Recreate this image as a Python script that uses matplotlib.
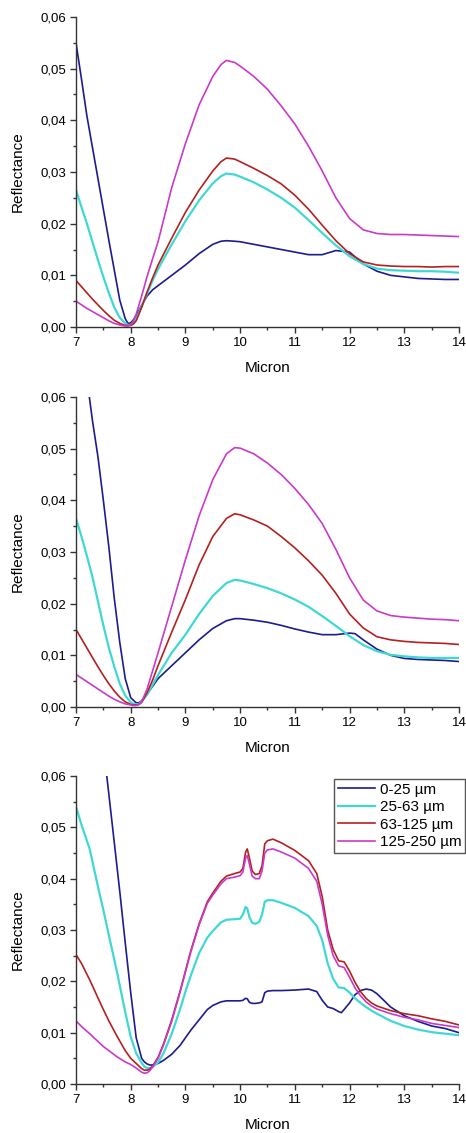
import matplotlib
matplotlib.use("Agg")
import matplotlib.pyplot as plt
from matplotlib.ticker import MultipleLocator, FuncFormatter

plt.rcParams['font.family'] = ['Liberation Sans', 'DejaVu Sans']

labels = ["0-25 µm", "25-63 µm", "63-125 µm", "125-250 µm"]
colors = ["#1c1c8f", "#40d8d2", "#b52020", "#c93ac9"]

# ---------------- Panel 1 ----------------
x1 = [7.0, 7.1, 7.2, 7.3, 7.4, 7.5, 7.6, 7.7, 7.8, 7.9, 7.95, 8.0, 8.05, 8.1, 8.2, 8.3, 8.4, 8.5,
      8.75, 9.0, 9.25, 9.5, 9.65, 9.75, 9.9, 10.0, 10.25, 10.5, 10.75, 11.0, 11.25, 11.5, 11.75,
      12.0, 12.25, 12.5, 12.75, 13.0, 13.25, 13.5, 13.75, 14.0]
blue1 = [0.0550, 0.0480, 0.0408, 0.0348, 0.0288, 0.0228, 0.0168, 0.0110, 0.0052, 0.0016, 0.0007,
         0.0008, 0.0014, 0.0022, 0.0042, 0.0060, 0.0072, 0.0080, 0.0100, 0.0120, 0.0142, 0.0160,
         0.0166, 0.0167, 0.0166, 0.0165, 0.0160, 0.0155, 0.0150, 0.0145, 0.0140, 0.0140, 0.0148,
         0.0145, 0.0122, 0.0108, 0.0100, 0.0097, 0.0094, 0.0093, 0.0092, 0.0092]
cyan1 = [0.0265, 0.0232, 0.0200, 0.0165, 0.0130, 0.0097, 0.0066, 0.0038, 0.0018, 0.0007, 0.0004,
         0.0004, 0.0007, 0.0015, 0.0040, 0.0065, 0.0090, 0.0112, 0.0160, 0.0205, 0.0245, 0.0278,
         0.0292, 0.0297, 0.0295, 0.0291, 0.0280, 0.0266, 0.0250, 0.0231, 0.0207, 0.0182, 0.0158,
         0.0137, 0.0122, 0.0113, 0.0110, 0.0109, 0.0108, 0.0108, 0.0107, 0.0105]
red1 = [0.0090, 0.0078, 0.0066, 0.0054, 0.0043, 0.0032, 0.0022, 0.0013, 0.0007, 0.0003, 0.0003,
        0.0003, 0.0006, 0.0012, 0.0038, 0.0068, 0.0095, 0.0120, 0.0172, 0.0222, 0.0265, 0.0302,
        0.0320, 0.0327, 0.0325, 0.0320, 0.0307, 0.0293, 0.0277, 0.0255, 0.0228, 0.0197, 0.0167,
        0.0142, 0.0126, 0.0120, 0.0118, 0.0117, 0.0117, 0.0116, 0.0117, 0.0117]
mag1 = [0.0050, 0.0043, 0.0036, 0.0030, 0.0024, 0.0018, 0.0012, 0.0007, 0.0004, 0.0002, 0.0002,
        0.0004, 0.0012, 0.0025, 0.0060, 0.0098, 0.0132, 0.0165, 0.0270, 0.0355, 0.0430, 0.0485,
        0.0508, 0.0516, 0.0512, 0.0505, 0.0485, 0.0460, 0.0428, 0.0393, 0.0350, 0.0302, 0.0250,
        0.0210, 0.0188, 0.0181, 0.0179, 0.0179, 0.0178, 0.0177, 0.0176, 0.0175]

# ---------------- Panel 2 ----------------
x2 = [7.0, 7.1, 7.2, 7.3, 7.4, 7.5, 7.6, 7.7, 7.8, 7.9, 8.0, 8.05, 8.1, 8.15, 8.2, 8.3, 8.4, 8.5,
      8.75, 9.0, 9.25, 9.5, 9.75, 9.9, 10.0, 10.25, 10.5, 10.75, 11.0, 11.25, 11.5, 11.75, 12.0,
      12.25, 12.5, 12.75, 13.0, 13.25, 13.5, 13.75, 14.0]
cyan2 = [0.0365, 0.0330, 0.0292, 0.0252, 0.0205, 0.0158, 0.0115, 0.0078, 0.0045, 0.0022, 0.0009,
         0.0006, 0.0005, 0.0006, 0.0010, 0.0024, 0.0043, 0.0062, 0.0105, 0.0140, 0.0180, 0.0215,
         0.0240, 0.0246, 0.0245, 0.0238, 0.0230, 0.0220, 0.0208, 0.0194, 0.0176, 0.0157, 0.0137,
         0.0120, 0.0108, 0.0101, 0.0098, 0.0096, 0.0095, 0.0095, 0.0095]
red2 = [0.0150, 0.0132, 0.0114, 0.0096, 0.0078, 0.0061, 0.0045, 0.0031, 0.0019, 0.0010, 0.0005,
        0.0004, 0.0004, 0.0005, 0.0009, 0.0028, 0.0052, 0.0080, 0.0145, 0.0208, 0.0275, 0.0330,
        0.0365, 0.0374, 0.0372, 0.0362, 0.0350, 0.0330, 0.0308, 0.0283, 0.0255, 0.0220, 0.0180,
        0.0153, 0.0136, 0.0130, 0.0127, 0.0125, 0.0124, 0.0123, 0.0121]
mag2 = [0.0063, 0.0056, 0.0049, 0.0042, 0.0035, 0.0028, 0.0021, 0.0015, 0.0010, 0.0006, 0.0004,
        0.0003, 0.0003, 0.0005, 0.0010, 0.0035, 0.0070, 0.0105, 0.0195, 0.0285, 0.0370, 0.0440,
        0.0490, 0.0502, 0.0501, 0.0490, 0.0472, 0.0450, 0.0423, 0.0392, 0.0355, 0.0305, 0.0250,
        0.0207, 0.0186, 0.0177, 0.0174, 0.0172, 0.0170, 0.0169, 0.0167]
xb2 = [7.2, 7.3, 7.4, 7.5, 7.6, 7.7, 7.8, 7.9, 8.0, 8.1, 8.15, 8.2, 8.3, 8.4, 8.5, 8.75, 9.0, 9.25,
       9.5, 9.75, 9.9, 10.0, 10.25, 10.5, 10.75, 11.0, 11.25, 11.5, 11.75, 12.0, 12.1, 12.25, 12.5,
       12.75, 13.0, 13.25, 13.5, 13.75, 14.0]
blue2 = [0.0635, 0.0555, 0.0485, 0.0400, 0.0310, 0.0210, 0.0125, 0.0055, 0.0018, 0.0008, 0.0008,
         0.0012, 0.0025, 0.0040, 0.0055, 0.0080, 0.0105, 0.0130, 0.0152, 0.0167, 0.0171, 0.0171,
         0.0168, 0.0164, 0.0158, 0.0151, 0.0145, 0.0140, 0.0140, 0.0143, 0.0142, 0.0130, 0.0112,
         0.0100, 0.0094, 0.0092, 0.0091, 0.0090, 0.0088]

# ---------------- Panel 3 ----------------
x3 = [7.0, 7.1, 7.25, 7.4, 7.5, 7.6, 7.75, 7.9, 8.0, 8.1, 8.2, 8.25, 8.3, 8.35, 8.4, 8.5, 8.6,
      8.75, 8.9, 9.0, 9.1, 9.25, 9.4, 9.5, 9.65, 9.75, 9.9, 10.0, 10.05, 10.1, 10.13, 10.17, 10.22,
      10.28, 10.35, 10.4, 10.45, 10.5, 10.6, 10.75, 11.0, 11.25, 11.4, 11.5, 11.6, 11.7, 11.8,
      11.9, 12.0, 12.1, 12.2, 12.3, 12.4, 12.5, 12.75, 13.0, 13.25, 13.5, 13.75, 14.0]
cyan3 = [0.0540, 0.0505, 0.0458, 0.0385, 0.0339, 0.0290, 0.0218, 0.0140, 0.0092, 0.0060, 0.0041,
         0.0034, 0.0031, 0.0031, 0.0033, 0.0042, 0.0060, 0.0098, 0.0145, 0.0180, 0.0212, 0.0255,
         0.0285, 0.0298, 0.0315, 0.0320, 0.0321, 0.0322, 0.0330, 0.0345, 0.0342, 0.0325, 0.0314,
         0.0312, 0.0316, 0.0330, 0.0355, 0.0358, 0.0358, 0.0353, 0.0343, 0.0327, 0.0308, 0.0280,
         0.0235, 0.0205, 0.0188, 0.0187, 0.0178, 0.0167, 0.0158, 0.0150, 0.0143, 0.0137, 0.0123,
         0.0113, 0.0106, 0.0101, 0.0098, 0.0095]
red3 = [0.0252, 0.0235, 0.0203, 0.0168, 0.0145, 0.0123, 0.0093, 0.0065, 0.0050, 0.0040, 0.0030,
        0.0027, 0.0027, 0.0029, 0.0035, 0.0052, 0.0078, 0.0125, 0.0180, 0.0220, 0.0260, 0.0312,
        0.0355, 0.0372, 0.0395, 0.0405, 0.0410, 0.0413, 0.0420, 0.0452, 0.0458, 0.0440, 0.0415,
        0.0408, 0.0410, 0.0425, 0.0468, 0.0474, 0.0477, 0.0470, 0.0455, 0.0435, 0.0410, 0.0365,
        0.0300, 0.0262, 0.0240, 0.0238, 0.0220, 0.0198, 0.0180, 0.0167, 0.0158, 0.0152, 0.0143,
        0.0137, 0.0133, 0.0127, 0.0122, 0.0115]
mag3 = [0.0123, 0.0112, 0.0098, 0.0083, 0.0073, 0.0065, 0.0053, 0.0043, 0.0038, 0.0031, 0.0023,
        0.0021, 0.0022, 0.0026, 0.0033, 0.0050, 0.0076, 0.0122, 0.0178, 0.0218, 0.0258, 0.0310,
        0.0352, 0.0368, 0.0390, 0.0400, 0.0403, 0.0406, 0.0413, 0.0440, 0.0445, 0.0428, 0.0405,
        0.0400, 0.0400, 0.0415, 0.0450, 0.0456, 0.0458, 0.0452, 0.0440, 0.0420, 0.0395, 0.0350,
        0.0290, 0.0250, 0.0230, 0.0227, 0.0208, 0.0187, 0.0172, 0.0160, 0.0152, 0.0146, 0.0137,
        0.0130, 0.0125, 0.0118, 0.0114, 0.0110]
xb3 = [7.53, 7.6, 7.7, 7.8, 7.9, 8.0, 8.1, 8.2, 8.25, 8.3, 8.35, 8.4, 8.5, 8.6, 8.75, 8.9, 9.0,
       9.1, 9.25, 9.4, 9.5, 9.65, 9.75, 9.9, 10.0, 10.05, 10.1, 10.13, 10.17, 10.22, 10.28, 10.35,
       10.4, 10.45, 10.5, 10.6, 10.75, 11.0, 11.25, 11.4, 11.5, 11.6, 11.7, 11.8, 11.85, 11.9,
       12.0, 12.1, 12.2, 12.3, 12.4, 12.5, 12.75, 13.0, 13.25, 13.5, 13.75, 14.0]
blue3 = [0.0630, 0.0565, 0.0470, 0.0375, 0.0275, 0.0178, 0.0090, 0.0050, 0.0043, 0.0039, 0.0037,
         0.0037, 0.0040, 0.0046, 0.0058, 0.0075, 0.0090, 0.0105, 0.0125, 0.0145, 0.0153, 0.0160,
         0.0162, 0.0162, 0.0162, 0.0163, 0.0167, 0.0166, 0.0159, 0.0157, 0.0157, 0.0158, 0.0160,
         0.0178, 0.0181, 0.0182, 0.0182, 0.0183, 0.0185, 0.0180, 0.0163, 0.0150, 0.0147, 0.0141,
         0.0139, 0.0145, 0.0158, 0.0174, 0.0182, 0.0185, 0.0183, 0.0176, 0.0150, 0.0133, 0.0122,
         0.0113, 0.0108, 0.0100]

panels = [
    [(x1, blue1), (x1, cyan1), (x1, red1), (x1, mag1)],
    [(xb2, blue2), (x2, cyan2), (x2, red2), (x2, mag2)],
    [(xb3, blue3), (x3, cyan3), (x3, red3), (x3, mag3)],
]

W, H = 466, 1133
fig = plt.figure(figsize=(W / 100, H / 100), dpi=100)
fig.patch.set_facecolor('white')

left, right = 76, 459
tops = [17, 397, 776]
bottoms = [327, 707, 1084]
widths_lw = [1.2, 1.6, 1.2, 1.2]

comma = FuncFormatter(lambda v, p: ("%.2f" % v).replace('.', ','))

axes = []
for i, series in enumerate(panels):
    ax = fig.add_axes([left / W, 1 - bottoms[i] / H, (right - left) / W, (bottoms[i] - tops[i]) / H])
    for (xs, ys), c, lab, lw in zip(series, colors, labels, widths_lw):
        ax.plot(xs, ys, color=c, lw=lw, label=lab)
    ax.set_xlim(7, 14)
    ax.set_ylim(0, 0.06)
    ax.xaxis.set_major_locator(MultipleLocator(1))
    ax.xaxis.set_minor_locator(MultipleLocator(0.5))
    ax.yaxis.set_major_locator(MultipleLocator(0.01))
    ax.yaxis.set_minor_locator(MultipleLocator(0.005))
    ax.yaxis.set_major_formatter(comma)
    for s in ['top', 'right']:
        ax.spines[s].set_visible(False)
    for s in ['left', 'bottom']:
        ax.spines[s].set_color('#333333')
        ax.spines[s].set_linewidth(1.0)
    ax.tick_params(which='major', direction='out', length=4, width=1, color='#333333',
                   labelsize=9.5, pad=3)
    ax.tick_params(which='minor', direction='out', length=2.5, width=1, color='#333333')
    ax.set_xlabel('Micron', fontsize=11, labelpad=9)
    ax.set_ylabel('Reflectance', fontsize=11, labelpad=11)
    axes.append(ax)

leg = axes[2].legend(loc='upper right', bbox_to_anchor=(465 / W, 1 - 779 / H),
                     bbox_transform=fig.transFigure, borderaxespad=0, fontsize=11,
                     frameon=True, fancybox=False, framealpha=1, edgecolor='#555555',
                     handlelength=2.4, handletextpad=0.3, labelspacing=0.22, borderpad=0.25)
leg.get_frame().set_linewidth(1.0)

fig.savefig('out.png', dpi=100)
